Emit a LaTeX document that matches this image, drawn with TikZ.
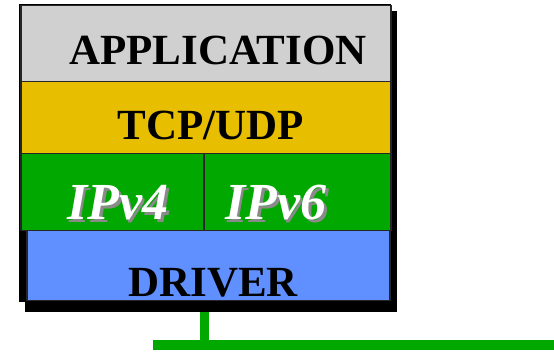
\documentclass[tikz,border=0pt]{standalone}
\usepackage{fontspec}
\setmainfont{Liberation Serif}
\usetikzlibrary{positioning,calc}
\definecolor{appgray}{HTML}{D0D0D0}
\definecolor{tcpgold}{HTML}{E8BE00}
\definecolor{ipgreen}{HTML}{00A800}
\definecolor{drvblue}{HTML}{6090FF}
\definecolor{shadegray}{HTML}{8A8A8A}
\newcommand{\shadowtext}[1]{\rlap{\raisebox{-2.5pt}{\kern2.5pt\textcolor{shadegray}{#1}}}#1}
\tikzset{
    layer/.style =  {rectangle,
                    draw=black!85,
                    line width=1.5pt,
                    inner sep=0pt,
                    anchor=north west},
    frame/.style =  {rectangle,
                    fill=black,
                    inner sep=0pt,
                    anchor=north west},
    caption/.style = {font=\fontsize{43}{48}\selectfont\bfseries,
                    text=black,
                    inner sep=0pt,
                    anchor=base},
    iptext/.style = {font=\fontsize{52}{56}\selectfont\bfseries\itshape,
                    text=white,
                    inner sep=0pt,
                    anchor=base},
    bus/.style =    {draw=ipgreen,
                    line width=10pt}}

\begin{document}
\begin{tikzpicture}[x=1pt,y=-1pt]
    \useasboundingbox (0,0) rectangle (554,352);
    % stack frame with its shadow
    \node[frame, minimum width=372pt, minimum height=301pt] (shadow) at (25,11) {};
    \node[frame, minimum width=372pt, minimum height=298pt] (stack) at (19,4) {};
    % layers
    \node[layer, fill=appgray, minimum width=370pt, minimum height=76pt] (app) at (20,5) {};
    \node[layer, fill=tcpgold, minimum width=370pt, minimum height=72pt] (tcp) at (20,81) {};
    \node[layer, fill=ipgreen, minimum width=183pt, minimum height=77pt] (ipv4) at (20,153) {};
    \node[layer, fill=ipgreen, minimum width=187pt, minimum height=77pt] (ipv6) at (203,153) {};
    \node[layer, fill=drvblue, minimum width=363pt, minimum height=70pt] (driver) at (26,230) {};
    % labels
    \node[caption] (appText) at (218,65) {APPLICATION};
    \node[caption] (tcpText) at (211,140) {TCP/UDP};
    \node[iptext] (ipv4Text) at (118,220) {\shadowtext{IPv4}};
    \node[iptext] (ipv6Text) at (276,220) {\shadowtext{IPv6}};
    \node[caption] (drvText) at (213,297) {DRIVER};
    % network
    \coordinate (tap) at (204.5,345.5);
    \coordinate (busL) at (153,345.5);
    \coordinate (busR) at (554,345.5);
    \draw[bus, line width=9pt] (tap |- shadow.south) -- (tap);
    \draw[bus] (busL) -- (busR);
\end{tikzpicture}
\end{document}
